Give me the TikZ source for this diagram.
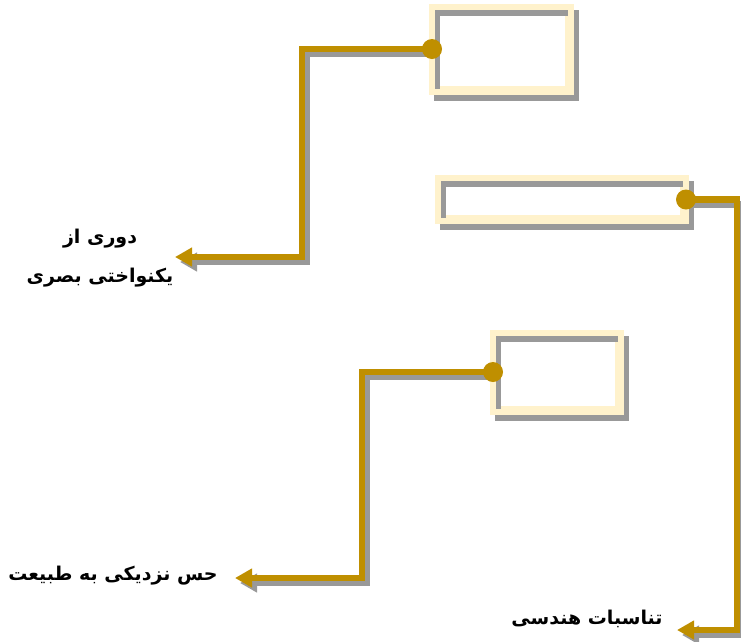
\documentclass[tikz,border=0pt]{standalone}
\usepackage{fontspec}
\newfontfamily\arabicfont[Script=Arabic]{DejaVu Sans}
\TeXXeTstate=1
\usetikzlibrary{arrows.meta}
\definecolor{gold}{RGB}{191,143,0}
\definecolor{cream}{RGB}{255,242,204}
\definecolor{shade}{RGB}{153,153,153}
\tikzset{
  box/.style={draw=cream, line width=6pt, rectangle, inner sep=0pt},
  boxshadow/.style={draw=shade, line width=6pt},
  conn/.style={draw=gold, line width=6.5pt, -{Triangle[length=17pt,width=18pt]}},
  connshadow/.style={draw=shade, line width=6.5pt, -{Triangle[length=17pt,width=18pt]}, transform canvas={xshift=5pt,yshift=-5pt}},
  dot/.style={fill=gold},
  lbl/.style={font=\arabicfont\bfseries\fontsize{19}{39}\selectfont, align=center, inner sep=0pt, text=black}
}
\begin{document}
\begin{tikzpicture}[x=1pt,y=-1pt]
\useasboundingbox (0,0) rectangle (741,641);
% boxes
\node[box, minimum width=133pt, minimum height=79pt] (b1) at (501.5,49) {};
\node[box, minimum width=242pt, minimum height=37pt] (b2) at (562,199.5) {};
\node[box, minimum width=122pt, minimum height=73pt] (b3) at (557,372) {};
% box shadows
\foreach \b in {b1,b2,b3}{
  \draw[boxshadow] ([shift={(5pt,-6pt)}]\b.south west) rectangle ([shift={(5pt,-6pt)}]\b.north east);
}
\foreach \b in {b1,b2,b3}{
  \draw[draw=cream, line width=6pt] (\b.south west) rectangle (\b.north east);
}
% labels
\node[lbl] (l1) at (100,258) {\beginR دوری از\endR\\\beginR یکنواختی بصری\endR};
\node[lbl] (l2) at (113,576) {\beginR حس نزدیکی به طبیعت\endR};
\node[lbl] (l3) at (587,619) {\beginR تناسبات هندسی\endR};
% arrow tips
\coordinate (t1) at (175,257);
\coordinate (t2) at (235,578);
\coordinate (t3) at (677,630);
% connector shadows
\draw[connshadow] (b1.west) -- ++(-130,0) |- (t1);
\draw[connshadow] (b2.east) -- ++(51,0) |- (t3);
\draw[connshadow] (b3.west) -- ++(-131,0) |- (t2);
% connectors
\draw[conn] (b1.west) -- ++(-130,0) |- (t1);
\draw[conn] (b2.east) -- ++(51,0) |- (t3);
\draw[conn] (b3.west) -- ++(-131,0) |- (t2);
% dots
\fill[dot] (b1.west) circle[radius=10pt];
\fill[dot] (b2.east) circle[radius=10pt];
\fill[dot] (b3.west) circle[radius=10pt];
\end{tikzpicture}
\end{document}
